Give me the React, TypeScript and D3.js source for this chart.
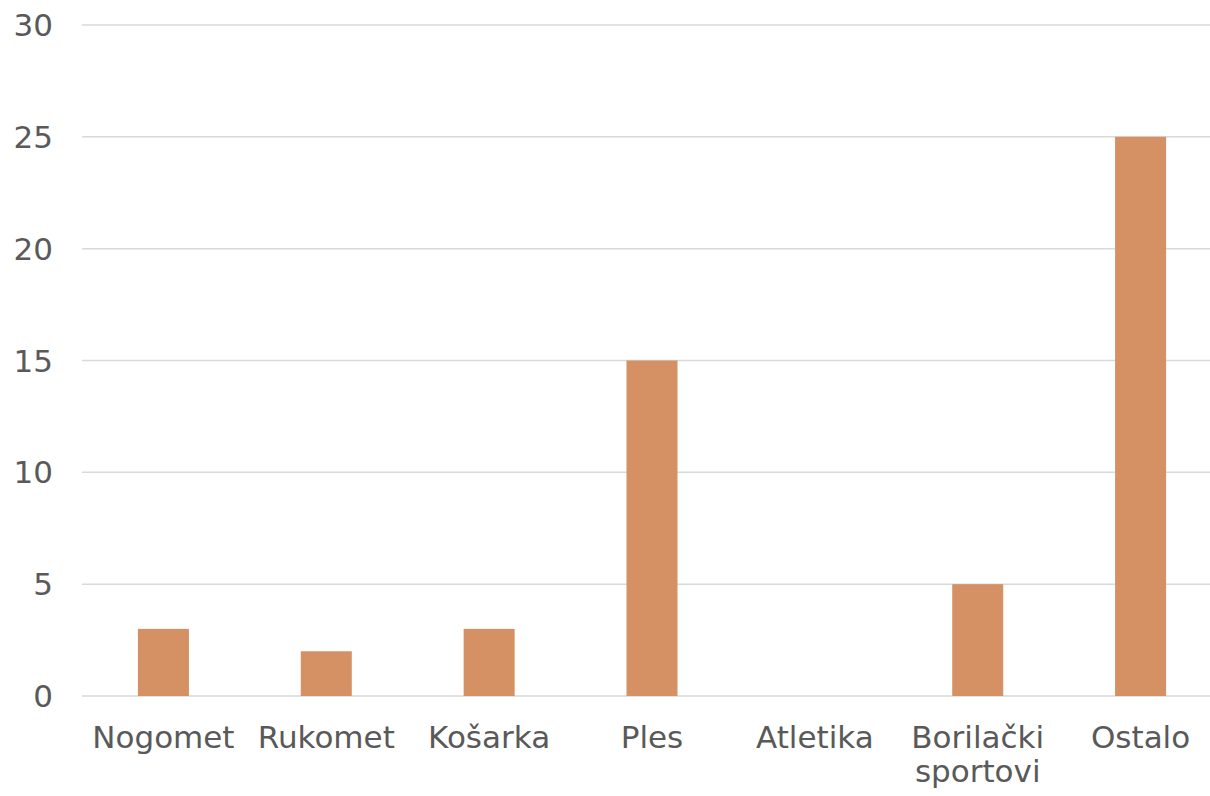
import React from "react";
import * as d3 from "d3";

const categories = ["Nogomet", "Rukomet", "Košarka", "Ples", "Atletika", "Borilački sportovi", "Ostalo"];
const values = [3, 2, 3, 15, 0, 5, 25];
const yTicks = [0, 5, 10, 15, 20, 25, 30];

const W = 1210;
const H = 796;
const FONT = "'DejaVu Sans', sans-serif";

export default function App() {
  const x = d3.scaleBand<string>().domain(categories).range([82, 1222]).paddingInner(0).paddingOuter(0);
  const y = d3.scaleLinear().domain([0, 30]).range([696, 25]);
  const barW = 51;

  const labelLines = (c: string) => (c === "Borilački sportovi" ? ["Borilački", "sportovi"] : [c]);

  return (
    <svg
      width={W}
      height={H}
      style={{ position: "absolute", left: 0, top: 0, background: "#fff" }}
      fontFamily={FONT}
    >
      {yTicks.map((t) => (
        <g key={t}>
          <line x1={82} x2={W} y1={y(t)} y2={y(t)} stroke="#d9d9d9" strokeWidth={1.5} />
          <text x={53} y={y(t)} dy="0.36em" textAnchor="end" fontSize={31} fill="#595959">
            {t}
          </text>
        </g>
      ))}
      {categories.map((c, i) => {
        const cx = (x(c) as number) + x.bandwidth() / 2;
        const v = values[i];
        return (
          <g key={c}>
            {v > 0 && (
              <rect
                x={cx - barW / 2}
                y={y(v)}
                width={barW}
                height={y(0) - y(v)}
                fill="#d59163"
              />
            )}
            {labelLines(c).map((ln, j) => (
              <text
                key={j}
                x={cx}
                y={748 + j * 34}
                textAnchor="middle"
                fontSize={31}
                fill="#595959"
              >
                {ln}
              </text>
            ))}
          </g>
        );
      })}
    </svg>
  );
}
